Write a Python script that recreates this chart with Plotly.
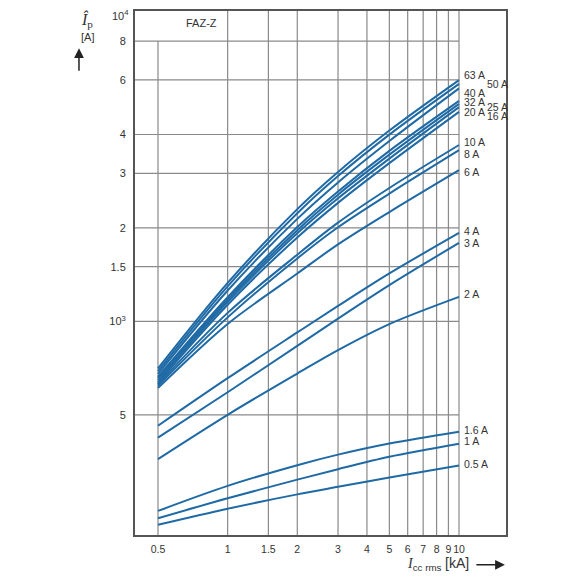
import math
import plotly.graph_objects as go

# prospective short-circuit current I_cc rms [kA]
i_cc = [0.5, 1, 2, 3, 5, 10]

# let-through peak current I_p [A] per rated current
ip_63 = [705, 1330, 2300, 3030, 4120, 5990]
ip_50 = [691, 1297, 2231, 2939, 3996, 5822]
ip_40 = [677, 1257, 2139, 2803, 3811, 5631]
ip_32 = [663, 1197, 2013, 2621, 3543, 5133]
ip_25 = [656, 1177, 1967, 2560, 3444, 5020]
ip_20 = [645, 1157, 1921, 2491, 3345, 4900]
ip_16 = [635, 1131, 1863, 2409, 3234, 4732]
ip_10 = [628, 1065, 1640, 2080, 2690, 3700]
ip_8 = [620, 1030, 1595, 2010, 2580, 3560]
ip_6 = [610, 981, 1426, 1770, 2250, 3070]
ip_4 = [461, 656, 921, 1121, 1427, 1928]
ip_3 = [422, 591, 834, 1021, 1309, 1790]
ip_2 = [360, 500, 679, 808, 980, 1199]
ip_1_6 = [245, 295, 344, 372, 404, 441]
ip_1 = [232, 269, 309, 334, 366, 403]
ip_0_5 = [221, 249, 277, 293, 314, 343]

curves = [
    ("63 A", ip_63), ("50 A", ip_50), ("40 A", ip_40), ("32 A", ip_32),
    ("25 A", ip_25), ("20 A", ip_20), ("16 A", ip_16), ("10 A", ip_10),
    ("8 A", ip_8), ("6 A", ip_6), ("4 A", ip_4), ("3 A", ip_3),
    ("2 A", ip_2), ("1.6 A", ip_1_6), ("1 A", ip_1), ("0.5 A", ip_0_5),
]

# label nudges (xshift, yshift) in pixels
label_shift = {
    "63 A": (3, 5), "50 A": (26, 0), "40 A": (3, -5), "32 A": (3, -1),
    "25 A": (26, -3), "20 A": (3, -5), "16 A": (26, -4), "10 A": (3, 3),
    "8 A": (3, -4), "6 A": (3, -2), "4 A": (3, 2), "3 A": (3, 0),
    "2 A": (3, 3), "1.6 A": (3, 2), "1 A": (3, 3), "0.5 A": (3, 2),
}

x_ticks = [0.5, 1, 1.5, 2, 3, 4, 5, 6, 7, 8, 9, 10]
y_ticks = [500, 1000, 1500, 2000, 3000, 4000, 6000, 8000, 10000]
y_ticktext = ["5", "10<sup>3</sup>", "1.5", "2", "3", "4", "6", "8", ""]
y_top_label = "10<sup>4</sup>"

x_range = [-0.4004, 1.2031]
y_range = [2.3116, 4.0]

FONT = "Liberation Sans, Arial, sans-serif"
SERIF = "Liberation Serif, DejaVu Serif, serif"
BLUE = "#1f6aa5"
GRID = "#8a8a8a"
TEXT = "#333"

fig = go.Figure()

# grid: verticals full height (0.5 stops below the FAZ-Z label), horizontals stop at 10 kA
gx, gy = [], []
for v in x_ticks:
    top = 8000 if v == 0.5 else 10 ** y_range[1]
    gx += [v, v, None]
    gy += [10 ** y_range[0], top, None]
for v in y_ticks[:-1]:
    gx += [10 ** x_range[0], x_ticks[-1], None]
    gy += [v, v, None]
fig.add_trace(go.Scatter(x=gx, y=gy, mode="lines", line=dict(color=GRID, width=1.2),
                         hoverinfo="skip", showlegend=False))

for name, vals in curves:
    fig.add_trace(go.Scatter(x=i_cc, y=vals, mode="lines", name=name,
                             line=dict(color=BLUE, width=2, shape="spline", smoothing=0.9),
                             showlegend=False))
    dx, dy = label_shift[name]
    fig.add_annotation(x=math.log10(i_cc[-1]), y=math.log10(vals[-1]), text=name,
                       showarrow=False, xanchor="left", yanchor="middle",
                       xshift=dx, yshift=dy, font=dict(family=FONT, size=10.5, color=TEXT))

# top tick label drawn separately so it is not clipped at the page edge
fig.add_annotation(x=0, y=1, xref="paper", yref="paper", text=y_top_label,
                   showarrow=False, xanchor="right", yanchor="middle",
                   xshift=-4, yshift=-4, font=dict(family=FONT, size=11, color=TEXT))

fig.add_annotation(x=0.132, y=0.977, xref="paper", yref="paper", text="FAZ-Z",
                   showarrow=False, yanchor="middle",
                   font=dict(family=FONT, size=11, color=TEXT))

# y axis title with arrow
fig.add_annotation(x=-0.152, y=0.983, xref="paper", yref="paper", yanchor="middle",
                   text="<i>Î</i><sub>p</sub>", showarrow=False,
                   font=dict(family=SERIF, size=16, color=TEXT))
fig.add_annotation(x=-0.152, y=0.950, xref="paper", yref="paper", yanchor="middle",
                   text="[A]", showarrow=False,
                   font=dict(family=FONT, size=11, color=TEXT))
fig.add_annotation(x=-0.151, y=0.929, xref="paper", yref="paper", ax=0, ay=24,
                   text="", showarrow=True,
                   arrowhead=2, arrowsize=1.3, arrowwidth=1.5, arrowcolor="#222")

# x axis title with arrow
fig.add_annotation(x=0.906, y=-0.055, xref="paper", yref="paper",
                   xanchor="right", yanchor="middle",
                   text='<i>I</i><sub><span style="font-family:Liberation Sans">cc rms</span></sub>'
                        ' <span style="font-family:Liberation Sans">[kA]</span>',
                   showarrow=False, font=dict(family=SERIF, size=14, color=TEXT))
fig.add_annotation(x=0.997, y=-0.057, xref="paper", yref="paper", ax=-30, ay=0,
                   text="", showarrow=True,
                   arrowhead=2, arrowsize=1.3, arrowwidth=1.5, arrowcolor="#222")

# page body has an 8px margin, so the figure is 564 px and shifted margins
fig.update_layout(
    width=564, height=564,
    margin=dict(l=127, r=66, t=3, b=37),
    paper_bgcolor="white", plot_bgcolor="white",
    xaxis=dict(type="log", range=x_range, tickvals=x_ticks,
               ticktext=[str(v) for v in x_ticks], showgrid=False, zeroline=False,
               showline=True, mirror=True, linecolor="#555", linewidth=2,
               ticks="", ticklabelstandoff=3, tickangle=0, automargin=False,
               tickfont=dict(family=FONT, size=10.5, color=TEXT)),
    yaxis=dict(type="log", range=y_range, tickvals=y_ticks, ticktext=y_ticktext,
               showgrid=False, zeroline=False,
               showline=True, mirror=True, linecolor="#555", linewidth=2,
               ticks="", ticklabelstandoff=5, automargin=False,
               tickfont=dict(family=FONT, size=11, color=TEXT)),
)

fig.write_html("out.html")
